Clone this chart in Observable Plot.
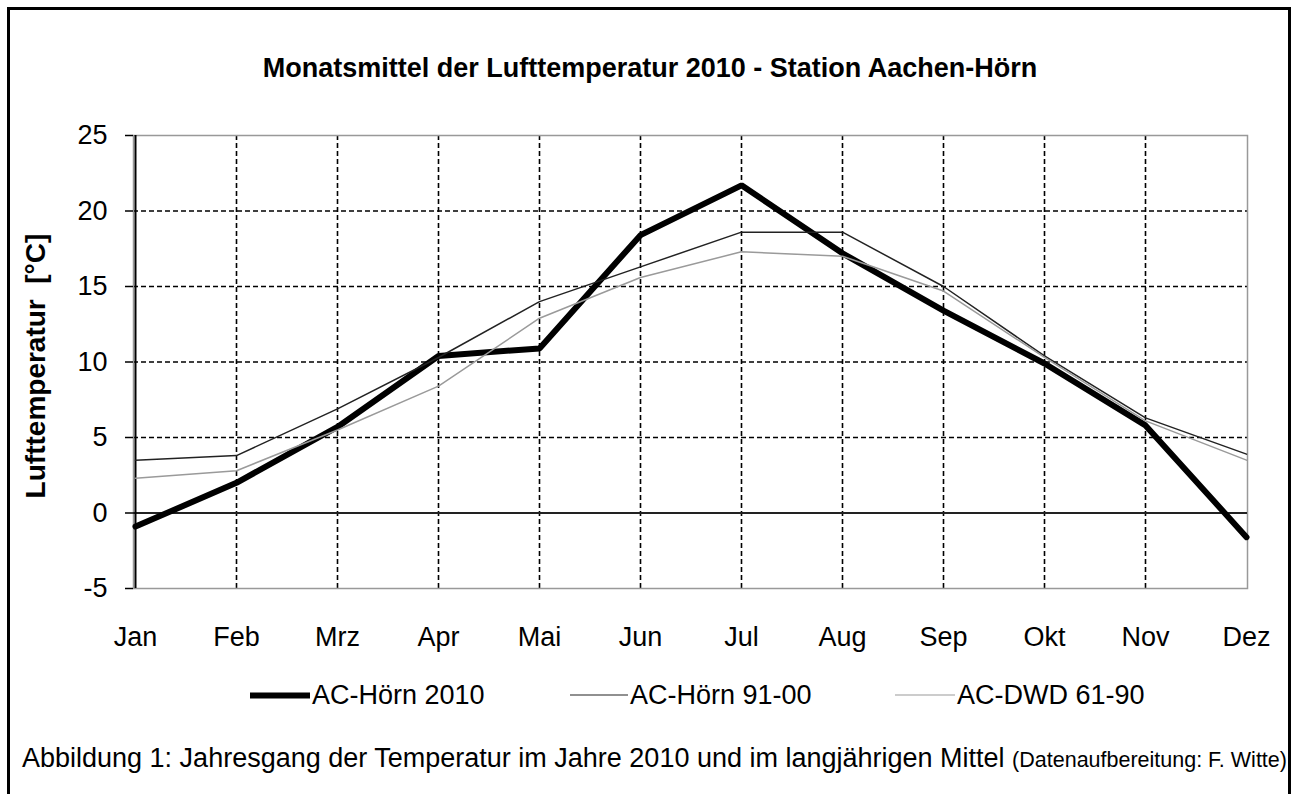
<!DOCTYPE html>
<html>
<head>
<meta charset="utf-8">
<script src="https://cdn.jsdelivr.net/npm/d3@7"></script>
<script src="https://cdn.jsdelivr.net/npm/@observablehq/plot@0.6"></script>
<style>
  html, body { margin: 0; padding: 0; background: #fff; }
  #page { position: relative; width: 1294px; height: 794px; overflow: hidden; font-family: "Liberation Sans", Arial, sans-serif; color: #000; }
  #frame { position: absolute; left: 7px; top: 7px; width: 1284px; height: 800px; border: 3px solid #000; box-sizing: border-box; }
  #chart { position: absolute; left: 0; top: 0; }
  .abs { position: absolute; white-space: pre; }
  #title { left: 650px; top: 68px; transform: translate(-50%, -50%); font-weight: bold; font-size: 27px; }
  #ylabel { left: 36px; top: 366px; transform: translate(-50%, -50%) rotate(-90deg); font-weight: bold; font-size: 28px; }
  .leg { top: 695px; transform: translateY(-50%); display: flex; align-items: center; font-size: 27px; }
  .sw { display: inline-block; margin-right: 2px; }
  #caption { left: 22px; top: 758px; transform: translateY(-50%); font-size: 27px; }
  #caption small { font-size: 21.5px; }
</style>
</head>
<body>
<div id="page">
  <div id="frame"></div>
  <div id="chart"></div>
  <div id="title" class="abs"></div>
  <div id="ylabel" class="abs"></div>
  <div id="legend"></div>
  <div id="caption" class="abs"></div>
</div>
<script>
const months = ["Jan","Feb","Mrz","Apr","Mai","Jun","Jul","Aug","Sep","Okt","Nov","Dez"];
const hoern2010 = [-0.9, 2.0, 5.7, 10.4, 10.9, 18.4, 21.7, 17.2, 13.4, 9.9, 5.8, -1.6];
const hoern9100 = [3.5, 3.8, 6.9, 10.3, 14.0, 16.3, 18.6, 18.6, 15.0, 10.4, 6.3, 3.9];
const dwd6190   = [2.3, 2.8, 5.5, 8.4, 12.9, 15.6, 17.3, 17.0, 14.7, 10.3, 6.1, 3.5];
const seriesNames = ["AC-Hörn 2010", "AC-Hörn 91-00", "AC-DWD 61-90"];
const yTicks = [-5, 0, 5, 10, 15, 20, 25];
const gridY = [5, 10, 15, 20];
const titleText = "Monatsmittel der Lufttemperatur 2010 - Station Aachen-Hörn";
const yLabelText = "Lufttemperatur  [°C]";
const captionMain = "Abbildung 1: Jahresgang der Temperatur im Jahre 2010 und im langjährigen Mittel";
const captionNote = "(Datenaufbereitung: F. Witte)";

const styles = [
  {stroke: "#000", strokeWidth: 6},
  {stroke: "#222", strokeWidth: 1.5},
  {stroke: "#9a9a9a", strokeWidth: 1.5}
];
const allSeries = [hoern2010, hoern9100, dwd6190];
const rows = allSeries.map((vals, i) => vals.map((v, j) => ({month: months[j], value: v, series: seriesNames[i]})));

const plot = Plot.plot({
  width: 1294,
  height: 680,
  marginTop: 135,
  marginBottom: 92,
  marginLeft: 133,
  marginRight: 47,
  style: {fontFamily: "'Liberation Sans', Arial, sans-serif", color: "#000", background: "transparent"},
  x: {type: "point", domain: months, padding: 0},
  y: {domain: [-5, 25]},
  marks: [
    Plot.ruleY(gridY, {stroke: "#000", strokeWidth: 1.6, strokeDasharray: "5,3"}),
    Plot.ruleX(months.slice(1, 11), {stroke: "#000", strokeWidth: 1.6, strokeDasharray: "5,3"}),
    Plot.frame({stroke: "#999", strokeWidth: 1.5}),
    Plot.ruleY([0], {stroke: "#222", strokeWidth: 2}),
    Plot.ruleX([months[0]], {stroke: "#000", strokeWidth: 2}),
    Plot.axisY({ticks: yTicks, tickSize: 8, tickPadding: 18, fontSize: 27, label: null, tickFormat: d => String(d), stroke: "#000", strokeWidth: 1.5}),
    Plot.axisX({tickSize: 0, tickPadding: 38, fontSize: 27, label: null}),
    ...rows.map((r, i) => Plot.line(r, {x: "month", y: "value", stroke: styles[i].stroke, strokeWidth: styles[i].strokeWidth, strokeLinejoin: "miter"}))
  ]
});
document.getElementById("chart").appendChild(plot);

document.getElementById("title").textContent = titleText;
document.getElementById("ylabel").textContent = yLabelText;
const cap = document.getElementById("caption");
cap.textContent = captionMain + " ";
const sm = document.createElement("small");
sm.textContent = captionNote;
cap.appendChild(sm);

const legLefts = [250, 570, 895];
const swW = [60, 58, 60];
const legend = document.getElementById("legend");
seriesNames.forEach((name, i) => {
  const item = document.createElement("div");
  item.className = "abs leg";
  item.style.left = legLefts[i] + "px";
  const sw = document.createElement("span");
  sw.className = "sw";
  sw.style.width = swW[i] + "px";
  sw.style.height = styles[i].strokeWidth + "px";
  sw.style.background = styles[i].stroke;
  item.appendChild(sw);
  const t = document.createElement("span");
  t.textContent = name;
  item.appendChild(t);
  legend.appendChild(item);
});
</script>
</body>
</html>
